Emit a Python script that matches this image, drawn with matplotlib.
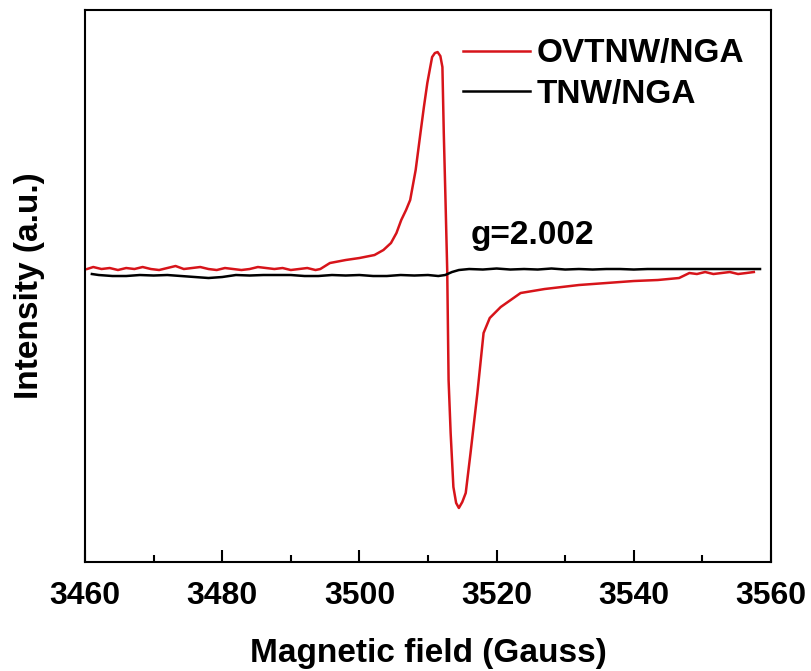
import numpy as np
import matplotlib
matplotlib.use("Agg")
import matplotlib.pyplot as plt

plt.rcParams['font.family'] = ['Liberation Sans', 'DejaVu Sans']
plt.rcParams['font.weight'] = 'bold'

# =========================
# DATA
# =========================
feld_ov = [3460.3, 3461.2, 3462.4, 3463.6, 3464.8, 3466.0, 3467.2, 3468.4, 3469.6, 3470.8,
           3472.0, 3473.2, 3474.4, 3475.6, 3476.8, 3478.0, 3479.2, 3480.4, 3481.6, 3482.8,
           3484.0, 3485.2, 3486.4, 3487.6, 3488.8, 3490.0, 3491.2, 3492.4, 3493.6, 3494.3,
           3495.7, 3498.0, 3500.0, 3502.2, 3503.5, 3504.6, 3505.4, 3506.1, 3506.8, 3507.4,
           3508.2, 3508.9, 3509.4, 3509.9, 3510.3, 3510.6, 3511.0, 3511.4, 3511.8, 3512.1,
           3512.3, 3512.55, 3512.8, 3513.0, 3513.3, 3513.7, 3514.1, 3514.5, 3515.0, 3515.5,
           3516.2, 3517.2, 3518.1, 3519.0, 3520.6, 3523.5, 3527.0, 3532.0, 3536.0, 3540.0,
           3543.5, 3546.6, 3548.1, 3549.2, 3550.4, 3551.6, 3552.8, 3554.0, 3555.2, 3556.4,
           3557.5]
int_ov = [1, 3, 1, 2, 0, 2, 1, 3, 1, 0,
          2, 4, 1, 2, 3, 1, 0, 2, 1, 0,
          1, 3, 2, 1, 2, 0, 1, 2, 0, 1,
          7, 10, 12, 15, 20, 27, 37, 50, 60, 70,
          100, 137, 163, 187, 202, 213, 217, 218, 214, 203,
          137, 70, 0, -110, -163, -217, -233, -238, -232, -223,
          -183, -123, -63, -48, -37, -23, -19, -15, -13, -11,
          -10, -8, -3, -4, -2, -4, -3, -2, -4, -3,
          -2]

feld_tnw = [3461, 3462, 3464, 3466, 3468, 3470, 3472, 3474, 3476, 3478,
            3480, 3482, 3484, 3486, 3488, 3490, 3492, 3494, 3496, 3498,
            3500, 3502, 3504, 3506, 3508, 3510, 3511.5, 3512.5, 3513.5, 3514.5,
            3516, 3518, 3520, 3522, 3524, 3526, 3528, 3530, 3532, 3534,
            3536, 3538, 3540, 3542, 3546, 3550, 3554, 3558.4]
int_tnw = [-4, -5, -6, -6, -5, -5.5, -5, -6, -7, -8,
           -7, -5, -5.5, -5, -5, -5, -6, -6, -5, -5.5,
           -5, -6, -6, -5, -5.5, -5, -6, -5, -2, 0,
           1, 0.5, 1.5, 0.5, 1, 0.5, 1.5, 0.5, 1, 0.5,
           1, 1, 0.5, 1, 1, 1, 1, 1]

# =========================
# PLOT
# =========================
fig = plt.figure(figsize=(8.12, 6.71), dpi=100)
ax = fig.add_axes([0.1047, 0.1625, 0.8448, 0.8225])

ax.plot(feld_ov, int_ov, color='#d7141a', lw=1.8, label='OVTNW/NGA')
ax.plot(feld_tnw, int_tnw, color='black', lw=1.8, label='TNW/NGA')

ax.set_xlim(3460, 3560)
ax.set_ylim(-292, 260)
ax.set_xticks(np.arange(3460, 3561, 20))
ax.set_xticks(np.arange(3470, 3560, 20), minor=True)
ax.set_yticks([])
ax.tick_params(axis='x', which='major', direction='in', length=9, width=1.5,
               labelsize=23, pad=14)
ax.tick_params(axis='x', which='minor', direction='in', length=5, width=1.5)
for s in ax.spines.values():
    s.set_linewidth(1.5)

ax.set_xlabel("Magnetic field (Gauss)", fontsize=24, fontweight='bold', labelpad=19)
ax.set_ylabel("Intensity (a.u.)", fontsize=24, fontweight='bold', labelpad=29)

ax.text(3516.2, 35, "g=2.002", fontsize=24, fontweight='bold', ha='left', va='center')

ax.legend(loc='upper left', bbox_to_anchor=(0.551, 0.949), frameon=False,
          fontsize=24, handlelength=2.0, handletextpad=0.2, borderpad=0,
          borderaxespad=0, labelspacing=0.29)

fig.savefig("out.png", dpi=100)
